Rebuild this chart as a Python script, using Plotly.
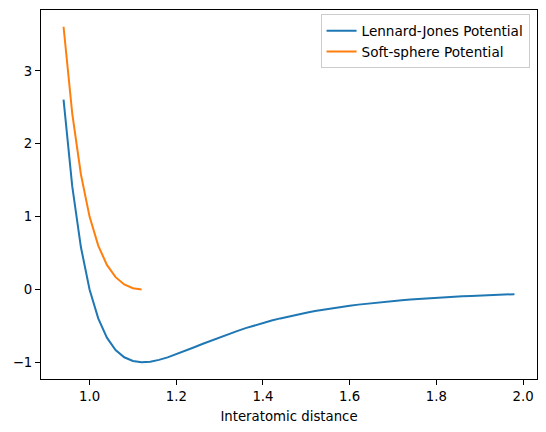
import plotly.graph_objects as go

r_lj = [0.94, 0.96, 0.98, 1.00, 1.02, 1.04, 1.06, 1.08, 1.10, 1.12,
        1.14, 1.16, 1.18, 1.20, 1.22, 1.24, 1.26, 1.28, 1.30, 1.32,
        1.34, 1.36, 1.38, 1.40, 1.42, 1.44, 1.46, 1.48, 1.50, 1.52,
        1.54, 1.56, 1.58, 1.60, 1.62, 1.64, 1.66, 1.68, 1.70, 1.72,
        1.74, 1.76, 1.78, 1.80, 1.82, 1.84, 1.86, 1.88, 1.90, 1.92,
        1.94, 1.96, 1.98]
v_lj = [2.607, 1.418, 0.582, 0.000, -0.398, -0.663, -0.832, -0.932, -0.983, -1.000,
        -0.992, -0.968, -0.933, -0.891, -0.845, -0.798, -0.750, -0.703, -0.657, -0.613,
        -0.572, -0.532, -0.495, -0.461, -0.428, -0.398, -0.370, -0.344, -0.320, -0.298,
        -0.277, -0.258, -0.241, -0.224, -0.209, -0.195, -0.182, -0.170, -0.159, -0.149,
        -0.139, -0.130, -0.122, -0.114, -0.107, -0.100, -0.094, -0.089, -0.083, -0.078,
        -0.074, -0.069, -0.065]

r_ss = [0.94, 0.96, 0.98, 1.00, 1.02, 1.04, 1.06, 1.08, 1.10, 1.12]
v_ss = [3.607, 2.418, 1.582, 1.000, 0.602, 0.337, 0.168, 0.068, 0.017, 0.000]

x_ticks = [1.0, 1.2, 1.4, 1.6, 1.8, 2.0]
y_ticks = [-1, 0, 1, 2, 3]

fig = go.Figure()
fig.add_trace(go.Scatter(x=r_lj, y=v_lj, mode="lines", name="Lennard-Jones Potential",
                         line=dict(color="#1f77b4", width=2)))
fig.add_trace(go.Scatter(x=r_ss, y=v_ss, mode="lines", name="Soft-sphere Potential",
                         line=dict(color="#ff7f0e", width=2)))

axis_common = dict(showgrid=False, zeroline=False, showline=True, linecolor="black",
                   linewidth=1, mirror=True, ticks="outside", ticklen=5, tickwidth=1,
                   tickcolor="black", automargin=False,
                   tickfont=dict(family="DejaVu Sans", size=13.3, color="black"))

# The page body has an 8px margin, so the figure is 8px smaller and the margins shifted.
fig.update_layout(
    width=538, height=424,
    margin=dict(l=32.5, r=9.3, t=1.5, b=53),
    paper_bgcolor="white", plot_bgcolor="white",
    font=dict(family="DejaVu Sans", size=13.3, color="black"),
    xaxis=dict(range=[0.888, 2.032], tickvals=x_ticks,
               ticktext=[f"{v:.1f}" for v in x_ticks],
               title=dict(text="Interatomic distance", font=dict(size=13.3), standoff=8),
               **axis_common),
    yaxis=dict(range=[-1.2303, 3.8373], tickvals=y_ticks,
               ticktext=["\u22121", "0", "1", "2", "3"], **axis_common),
    legend=dict(x=0.985, y=0.988, xanchor="right", yanchor="top",
                bgcolor="rgba(255,255,255,0.8)", bordercolor="#cccccc", borderwidth=1,
                font=dict(family="DejaVu Sans", size=13.6), tracegroupgap=0,
                itemwidth=30),
    showlegend=True,
)

fig.write_html("out.html")
